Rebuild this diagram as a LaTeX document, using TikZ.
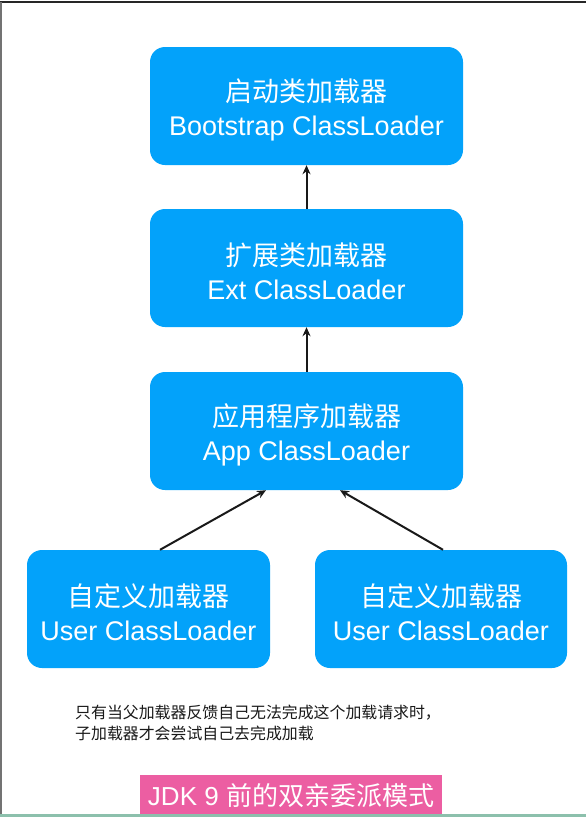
\documentclass[tikz,border=0pt]{standalone}
\usepackage{fontspec}
\setmainfont{Liberation Sans}
\newfontfamily\cjk{Noto Sans CJK SC}
\usetikzlibrary{arrows.meta,calc}
\definecolor{boxblue}{RGB}{3,162,250}
\definecolor{labpink}{RGB}{236,94,162}
\definecolor{edgegreen}{RGB}{140,192,172}
\newcommand{\toplift}{\rule{0pt}{30pt}}
\tikzset{
  loader/.style={draw=none,fill=boxblue,rounded corners=15pt,text=white,align=center,
    minimum height=118pt,font=\fontsize{27}{34}\selectfont,inner sep=0pt},
  arr/.style={line width=2pt,draw=black!90,-{Stealth[length=9pt,width=8pt]}},
}
\begin{document}
\begin{tikzpicture}[x=1pt,y=-1pt]
\useasboundingbox (0,0) rectangle (586,817);
\fill[white] (0,0) rectangle (586,817);
\draw[line width=2pt,black!85] (0,2) -- (586,2);
\draw[line width=1.5pt,black!55] (0.75,2) -- (0.75,817);

\node[loader,minimum width=313pt] (boot) at (306.5,106) {\toplift{\cjk 启动类加载器}\\Bootstrap ClassLoader};
\node[loader,minimum width=313pt] (ext) at (306.5,268) {\toplift{\cjk 扩展类加载器}\\Ext ClassLoader};
\node[loader,minimum width=313pt] (app) at (306.5,431) {\toplift{\cjk 应用程序加载器}\\App ClassLoader};
\node[loader,minimum width=243pt] (ul) at (148.5,609) {\toplift{\cjk 自定义加载器}\\User ClassLoader};
\node[loader,minimum width=252pt] (ur) at (441,609) {\toplift{\cjk 自定义加载器}\\User ClassLoader};

\draw[arr] (ext.north) -- (boot.south);
\draw[arr] (app.north) -- (ext.south);
\draw[arr] ([xshift=11.5pt]ul.north) -- ([xshift=-40.5pt]app.south);
\draw[arr] ([xshift=2pt]ur.north) -- ([xshift=33.5pt]app.south);

\node[anchor=west,align=left,inner sep=0pt,font=\cjk\fontsize{15.9}{21}\selectfont,text=black!90] (note) at (75,722.5)
  {只有当父加载器反馈自己无法完成这个加载请求时，\\子加载器才会尝试自己去完成加载};

\node[fill=labpink,text=white,minimum width=302pt,minimum height=42pt,inner sep=0pt,
  font=\fontsize{26}{30}\selectfont] (title) at (291,796) {JDK 9 {\cjk 前的双亲委派模式}};

\draw[line width=2.5pt,edgegreen] (0,815.5) -- (586,815.5);
\end{tikzpicture}
\end{document}
